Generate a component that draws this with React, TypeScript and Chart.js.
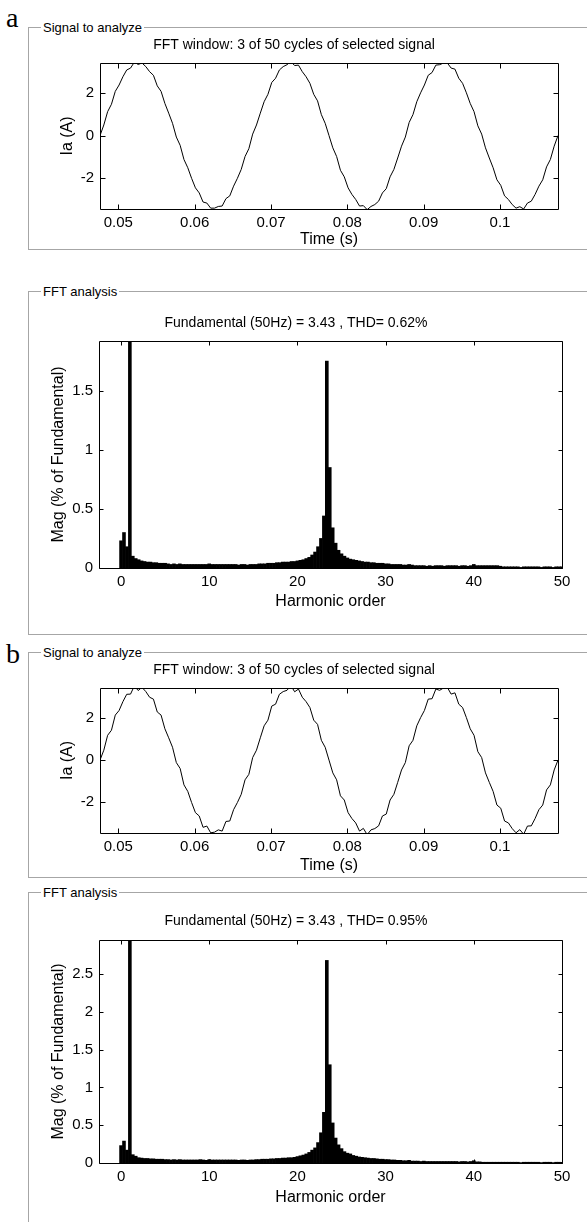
import React, { useEffect, useRef } from 'react';
import { Chart, registerables } from 'chart.js';

Chart.register(...registerables);
document.body.style.margin = '0';

const FONT = '"Liberation Sans", Arial, sans-serif';

// ---- Signal to analyze (time domain) ----
const SAMPLE_START = 0.0476;
const SAMPLE_STEP = 0.0005;
const TIME_MIN = 0.0476;
const TIME_MAX = 0.1076;
const TIME_TICKS = [0.05, 0.06, 0.07, 0.08, 0.09, 0.1];
const TIME_TICK_LABELS = ['0.05', '0.06', '0.07', '0.08', '0.09', '0.1'];
const CURRENT_TICKS = [-2, 0, 2];
const CURRENT_TICK_LABELS = ['-2', '0', '2'];

const SIGNAL_A = [
  0.00, 0.50, 1.13, 1.48, 2.09, 2.39, 2.78, 3.10, 3.19, 3.47, 3.36, 3.43, 3.26, 3.02, 2.85, 2.35, 2.09, 1.52, 1.06, 0.58,
  -0.07, -0.46, -1.13, -1.52, -2.02, -2.47, -2.71, -3.14, -3.19, -3.43, -3.43, -3.35, -3.33, -2.98, -2.85, -2.39, -2.02, -1.60, -0.99, -0.62,
  0.07, 0.50, 1.06, 1.60, 1.95, 2.51, 2.71, 3.10, 3.26, 3.35, 3.50, 3.31, 3.33, 3.02, 2.78, 2.47, 1.95, 1.64, 0.99, 0.58,
  0.00, -0.58, -0.99, -1.64, -1.95, -2.47, -2.78, -3.02, -3.33, -3.31, -3.50, -3.35, -3.26, -3.10, -2.71, -2.51, -1.95, -1.60, -1.06, -0.50,
  -0.07, 0.62, 0.99, 1.60, 2.02, 2.39, 2.85, 2.98, 3.33, 3.35, 3.43, 3.43, 3.19, 3.14, 2.71, 2.47, 2.02, 1.52, 1.13, 0.46,
  0.07, -0.58, -1.06, -1.52, -2.09, -2.35, -2.85, -3.02, -3.26, -3.43, -3.36, -3.47, -3.19, -3.10, -2.78, -2.39, -2.09, -1.48, -1.13, -0.50,
  0.00,
];

const SIGNAL_B = [
  0.00, 0.47, 1.18, 1.42, 2.14, 2.36, 2.78, 3.13, 3.14, 3.53, 3.31, 3.46, 3.26, 2.99, 2.90, 2.29, 2.14, 1.49, 1.06, 0.61,
  -0.12, -0.40, -1.18, -1.49, -2.02, -2.50, -2.66, -3.20, -3.14, -3.46, -3.43, -3.32, -3.38, -2.92, -2.90, -2.36, -2.02, -1.63, -0.94, -0.68,
  0.12, 0.47, 1.06, 1.63, 1.90, 2.57, 2.66, 3.13, 3.26, 3.32, 3.55, 3.25, 3.38, 2.99, 2.78, 2.50, 1.90, 1.70, 0.94, 0.61,
  0.00, -0.61, -0.94, -1.70, -1.90, -2.50, -2.78, -2.99, -3.38, -3.25, -3.55, -3.32, -3.26, -3.13, -2.66, -2.57, -1.90, -1.63, -1.06, -0.47,
  -0.12, 0.68, 0.94, 1.63, 2.02, 2.36, 2.90, 2.92, 3.38, 3.32, 3.43, 3.46, 3.14, 3.20, 2.66, 2.50, 2.02, 1.49, 1.18, 0.40,
  0.12, -0.61, -1.06, -1.49, -2.14, -2.29, -2.90, -2.99, -3.26, -3.46, -3.31, -3.53, -3.14, -3.13, -2.78, -2.36, -2.14, -1.42, -1.18, -0.47,
  0.00,
];

// ---- FFT analysis (harmonic spectrum, bins every 1/3 harmonic) ----
const HARMONIC_STEP = 1 / 3;
const HARMONIC_MIN = -2.5;
const HARMONIC_MAX = 50;
const HARMONIC_TICKS = [0, 10, 20, 30, 40, 50];
const HARMONIC_TICK_LABELS = ['0', '10', '20', '30', '40', '50'];
const MAG_TICKS_A = [0, 0.5, 1, 1.5];
const MAG_TICK_LABELS_A = ['0', '0.5', '1', '1.5'];
const MAG_TICKS_B = [0, 0.5, 1, 1.5, 2, 2.5];
const MAG_TICK_LABELS_B = ['0', '0.5', '1', '1.5', '2', '2.5'];
const MAG_MAX_A = 1.92;
const MAG_MAX_B = 2.95;

const MAG_A = [
  0.23, 0.30, 0.18, 100, 0.10, 0.08, 0.07, 0.06, 0.055, 0.05, 0.05, 0.045,
  0.045, 0.04, 0.04, 0.04, 0.035, 0.03, 0.035, 0.03, 0.035, 0.03, 0.03, 0.03,
  0.03, 0.03, 0.03, 0.03, 0.03, 0.03, 0.035, 0.03, 0.03, 0.03, 0.03, 0.03,
  0.03, 0.03, 0.03, 0.03, 0.025, 0.03, 0.03, 0.025, 0.03, 0.03, 0.03, 0.035,
  0.035, 0.035, 0.04, 0.04, 0.04, 0.045, 0.045, 0.05, 0.05, 0.05, 0.055, 0.055,
  0.06, 0.065, 0.07, 0.08, 0.09, 0.11, 0.135, 0.18, 0.25, 0.44, 1.75, 0.85,
  0.34, 0.21, 0.15, 0.12, 0.10, 0.085, 0.075, 0.07, 0.065, 0.06, 0.055, 0.05,
  0.05, 0.045, 0.045, 0.04, 0.04, 0.04, 0.035, 0.035, 0.03, 0.03, 0.03, 0.03,
  0.025, 0.025, 0.03, 0.025, 0.02, 0.02, 0.02, 0.02, 0.015, 0.02, 0.015, 0.02,
  0.02, 0.02, 0.015, 0.02, 0.02, 0.02, 0.02, 0.015, 0.02, 0.02, 0.015, 0.02,
  0.03, 0.02, 0.02, 0.02, 0.02, 0.02, 0.02, 0.02, 0.02, 0.015, 0.01, 0.01,
  0.01, 0.01, 0.01, 0.01, 0.005, 0.01, 0.01, 0.01, 0.01, 0.01, 0.01, 0.005,
  0.01, 0.01, 0.01, 0.005, 0.01, 0.01, 0.01,
];

const MAG_B = [
  0.23, 0.29, 0.17, 100, 0.11, 0.09, 0.07, 0.065, 0.06, 0.06, 0.055, 0.055,
  0.05, 0.05, 0.05, 0.045, 0.045, 0.04, 0.045, 0.04, 0.045, 0.04, 0.04, 0.04,
  0.04, 0.04, 0.04, 0.045, 0.04, 0.035, 0.045, 0.04, 0.04, 0.04, 0.04, 0.04,
  0.04, 0.04, 0.04, 0.04, 0.035, 0.04, 0.04, 0.035, 0.04, 0.04, 0.045, 0.045,
  0.05, 0.05, 0.05, 0.055, 0.055, 0.06, 0.06, 0.065, 0.065, 0.07, 0.07, 0.075,
  0.085, 0.095, 0.105, 0.12, 0.14, 0.17, 0.20, 0.27, 0.40, 0.67, 2.68, 1.30,
  0.53, 0.33, 0.24, 0.19, 0.15, 0.13, 0.12, 0.10, 0.09, 0.08, 0.075, 0.07,
  0.065, 0.06, 0.06, 0.055, 0.05, 0.05, 0.045, 0.045, 0.04, 0.04, 0.035, 0.035,
  0.03, 0.03, 0.035, 0.025, 0.025, 0.025, 0.02, 0.025, 0.02, 0.02, 0.02, 0.02,
  0.02, 0.02, 0.02, 0.02, 0.02, 0.02, 0.02, 0.015, 0.02, 0.02, 0.015, 0.02,
  0.03, 0.015, 0.015, 0.01, 0.01, 0.01, 0.01, 0.01, 0.01, 0.01, 0.01, 0.01,
  0.01, 0.01, 0.01, 0.01, 0.005, 0.01, 0.01, 0.01, 0.01, 0.01, 0.01, 0.005,
  0.01, 0.01, 0.01, 0.005, 0.01, 0.01, 0.01,
];

// ---- MATLAB-like box with inward tick marks ----
const matlabBox = {
  id: 'matlabBox',
  afterDatasetsDraw(chart: any, _args: any, opts: any) {
    const { ctx, chartArea } = chart;
    const { left, right, top, bottom } = chartArea;
    const len = (opts && opts.tickLength) || 5;
    const xs = chart.scales.x;
    const ys = chart.scales.y;
    const L = Math.round(left) + 0.5;
    const R = Math.round(right) + 0.5;
    const T = Math.round(top) + 0.5;
    const B = Math.round(bottom) + 0.5;
    ctx.save();
    ctx.strokeStyle = '#000';
    ctx.lineWidth = 1;
    ctx.beginPath();
    ctx.moveTo(L, T);
    ctx.lineTo(R, T);
    ctx.lineTo(R, B);
    ctx.lineTo(L, B);
    ctx.closePath();
    xs.ticks.forEach((t: any) => {
      const px = Math.round(xs.getPixelForValue(t.value)) + 0.5;
      ctx.moveTo(px, B);
      ctx.lineTo(px, B - len);
      ctx.moveTo(px, T);
      ctx.lineTo(px, T + len);
    });
    ys.ticks.forEach((t: any) => {
      const py = Math.round(ys.getPixelForValue(t.value)) + 0.5;
      ctx.moveTo(L, py);
      ctx.lineTo(L + len, py);
      ctx.moveTo(R, py);
      ctx.lineTo(R - len, py);
    });
    ctx.stroke();
    ctx.restore();
  },
};

type Dims = {
  titlePad: { top: number; bottom: number };
  yWidth: number;
  xHeight: number;
  padRight: number;
  yTitlePad: number;
  xTitlePad: number;
};

function axisX(min: number, max: number, ticks: number[], labels: string[], title: string, d: Dims) {
  return {
    type: 'linear',
    min,
    max,
    offset: false,
    afterBuildTicks: (s: any) => {
      s.ticks = ticks.map((v) => ({ value: v }));
    },
    afterFit: (s: any) => {
      s.height = d.xHeight;
    },
    ticks: {
      callback: (_v: any, i: number) => labels[i],
      font: { family: FONT, size: 15 },
      color: '#000',
      padding: 5,
      maxRotation: 0,
      autoSkip: false,
    },
    grid: { display: false, drawTicks: false },
    border: { display: false },
    title: {
      display: true,
      text: title,
      font: { family: FONT, size: 16 },
      color: '#000',
      padding: { top: 0, bottom: d.xTitlePad },
    },
  };
}

function axisY(min: number, max: number, ticks: number[], labels: string[], title: string, d: Dims) {
  return {
    type: 'linear',
    min,
    max,
    afterBuildTicks: (s: any) => {
      s.ticks = ticks.map((v) => ({ value: v }));
    },
    afterFit: (s: any) => {
      s.width = d.yWidth;
    },
    ticks: {
      callback: (_v: any, i: number) => labels[i],
      font: { family: FONT, size: 15 },
      color: '#000',
      padding: 6,
      autoSkip: false,
    },
    grid: { display: false, drawTicks: false },
    border: { display: false },
    title: {
      display: true,
      text: title,
      font: { family: FONT, size: 16 },
      color: '#000',
      padding: { top: d.yTitlePad, bottom: 0 },
    },
  };
}

function baseOptions(title: string, d: Dims, tickLength: number) {
  return {
    responsive: true,
    maintainAspectRatio: false,
    animation: false,
    layout: { padding: { left: 0, right: d.padRight, top: 0, bottom: 0 } },
    plugins: {
      legend: { display: false },
      tooltip: { enabled: false },
      title: {
        display: true,
        text: title,
        font: { family: FONT, size: 14, weight: 'normal' },
        color: '#000',
        padding: d.titlePad,
      },
      matlabBox: { tickLength },
    },
  };
}

function signalConfig(values: number[], title: string, d: Dims) {
  return {
    type: 'line',
    data: {
      datasets: [
        {
          data: values.map((y, i) => ({ x: SAMPLE_START + i * SAMPLE_STEP, y })),
          borderColor: '#000',
          borderWidth: 1,
          pointRadius: 0,
          tension: 0,
          fill: false,
        },
      ],
    },
    options: {
      ...baseOptions(title, d, 5),
      scales: {
        x: axisX(TIME_MIN, TIME_MAX, TIME_TICKS, TIME_TICK_LABELS, 'Time (s)', d),
        y: axisY(-3.47, 3.43, CURRENT_TICKS, CURRENT_TICK_LABELS, 'Ia (A)', d),
      },
    },
    plugins: [matlabBox],
  };
}

function fftConfig(values: number[], title: string, yMax: number, yTicks: number[], yLabels: string[], d: Dims) {
  return {
    type: 'bar',
    data: {
      datasets: [
        {
          data: values.map((y, i) => ({ x: i * HARMONIC_STEP, y })),
          backgroundColor: '#000',
          borderWidth: 0,
          barPercentage: 1,
          categoryPercentage: 1,
        },
      ],
    },
    options: {
      ...baseOptions(title, d, 4),
      scales: {
        x: axisX(HARMONIC_MIN, HARMONIC_MAX, HARMONIC_TICKS, HARMONIC_TICK_LABELS, 'Harmonic order', d),
        y: axisY(0, yMax, yTicks, yLabels, 'Mag (% of Fundamental)', d),
      },
    },
    plugins: [matlabBox],
  };
}

function ChartBox({ left, top, width, height, make }: any) {
  const ref = useRef<HTMLCanvasElement>(null);
  useEffect(() => {
    const chart = new Chart(ref.current as HTMLCanvasElement, make() as any);
    return () => chart.destroy();
  }, []);
  return (
    <div style={{ position: 'absolute', left, top, width, height }}>
      <canvas ref={ref} />
    </div>
  );
}

function GroupBox({ top, height, label, bottom = true }: any) {
  return (
    <div
      style={{
        position: 'absolute',
        left: 28,
        top,
        width: 600,
        height,
        borderTop: '1px solid #a6a6a6',
        borderLeft: '1px solid #a6a6a6',
        borderBottom: bottom ? '1px solid #a6a6a6' : 'none',
      }}
    >
      <span
        style={{
          position: 'absolute',
          left: 12,
          top: -8,
          background: '#fff',
          padding: '0 2px',
          font: `13px ${FONT}`,
          lineHeight: '15px',
          color: '#000',
          whiteSpace: 'nowrap',
        }}
      >
        {label}
      </span>
    </div>
  );
}

const D1: Dims = { titlePad: { top: 4.6, bottom: 9.6 }, yWidth: 70, xHeight: 41, padRight: 12, yTitlePad: 28.4, xTitlePad: 0.4 };
const D2: Dims = { titlePad: { top: 14.6, bottom: 9.6 }, yWidth: 69, xHeight: 50, padRight: 18, yTitlePad: 19.4, xTitlePad: 6.4 };
const D3: Dims = { titlePad: { top: 6.6, bottom: 9.6 }, yWidth: 70, xHeight: 43, padRight: 12, yTitlePad: 28.4, xTitlePad: 0.4 };
const D4: Dims = { titlePad: { top: 14.6, bottom: 10.6 }, yWidth: 69, xHeight: 55, padRight: 18, yTitlePad: 19.4, xTitlePad: 10.4 };

export default function App() {
  const letter = { position: 'absolute' as const, left: 6, font: '28px "Liberation Serif", "Times New Roman", serif', lineHeight: '28px', color: '#000' };
  return (
    <div style={{ position: 'relative', width: 587, height: 1222, overflow: 'hidden', background: '#fff' }}>
      <GroupBox top={27} height={221} label="Signal to analyze" />
      <GroupBox top={291} height={342} label="FFT analysis" />
      <GroupBox top={652} height={224} label="Signal to analyze" />
      <GroupBox top={892} height={400} label="FFT analysis" bottom={false} />
      <div style={{ ...letter, top: 4 }}>a</div>
      <div style={{ ...letter, top: 640 }}>b</div>
      <ChartBox left={30} top={32} width={540} height={218}
        make={() => signalConfig(SIGNAL_A, 'FFT window: 3 of 50 cycles of selected signal', D1)} />
      <ChartBox left={30} top={300} width={550} height={318}
        make={() => fftConfig(MAG_A, 'Fundamental (50Hz) = 3.43 , THD= 0.62%', MAG_MAX_A, MAG_TICKS_A, MAG_TICK_LABELS_A, D2)} />
      <ChartBox left={30} top={655} width={540} height={221}
        make={() => signalConfig(SIGNAL_B, 'FFT window: 3 of 50 cycles of selected signal', D3)} />
      <ChartBox left={30} top={898} width={550} height={320}
        make={() => fftConfig(MAG_B, 'Fundamental (50Hz) = 3.43 , THD= 0.95%', MAG_MAX_B, MAG_TICKS_B, MAG_TICK_LABELS_B, D4)} />
    </div>
  );
}
